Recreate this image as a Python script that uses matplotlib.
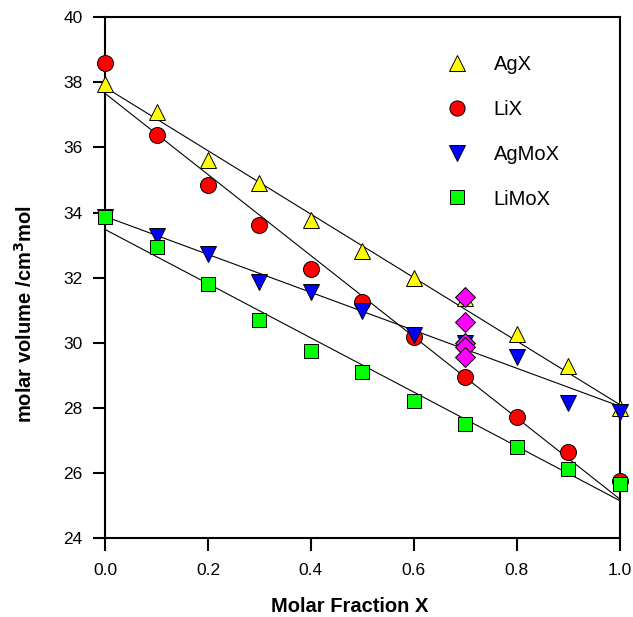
import matplotlib
matplotlib.use("Agg")
import matplotlib.pyplot as plt
import numpy as np

plt.rcParams['font.family'] = ['Liberation Sans', 'DejaVu Sans']

# molar fraction X
x = [0.0, 0.1, 0.2, 0.3, 0.4, 0.5, 0.6, 0.7, 0.8, 0.9, 1.0]

agx = [37.96, 37.1, 35.61, 34.91, 33.76, 32.82, 32.0, 31.38, 30.26, 29.3, 27.98]
lix = [38.6, 36.38, 34.84, 33.61, 32.28, 31.25, 30.17, 28.96, 27.73, 26.63, 25.76]
agmox = [33.85, 33.27, 32.74, 31.86, 31.56, 30.97, 30.25, 29.98, 29.55, 28.14, 27.86]
limox = [33.86, 32.94, 31.79, 30.69, 29.76, 29.1, 28.22, 27.51, 26.79, 26.12, 25.66]

# extra points at X = 0.7
x_extra = [0.7, 0.7, 0.7, 0.7, 0.7]
extra = [31.42, 30.65, 29.98, 29.86, 29.56]

# straight fit lines, value at X=0 and X=1
fit_x = [0.0, 1.0]
fit_agx = [37.85, 28.1]
fit_lix = [37.66, 25.2]
fit_agmox = [33.88, 28.05]
fit_limox = [33.48, 25.15]

fig = plt.figure(figsize=(6.33, 6.17), dpi=100)
ax = fig.add_axes([0.166, 0.128, 0.813, 0.844])

for f in (fit_agx, fit_lix, fit_agmox, fit_limox):
    ax.plot(fit_x, f, color='black', lw=0.8, zorder=2)

kw = dict(mec='black', mew=0.7, ls='none', zorder=3, clip_on=False)
ax.plot(x, agx, '^', ms=11.5, mfc='#ffff00', label='AgX', **kw)
ax.plot(x, lix, 'o', ms=11.5, mfc='#ff0000', label='LiX', **kw)
ax.plot(x, agmox, 'v', ms=11.5, mfc='#0000ff', label='AgMoX', **kw)
ax.plot(x, limox, 's', ms=10.5, mfc='#00ff00', label='LiMoX', **kw)
ax.plot(x_extra, extra, 'D', ms=10, mfc='#ff00ff', mec='black', mew=0.7, ls='none', zorder=4)

ax.set_xlim(0, 1.0)
ax.set_ylim(24, 40)
ax.set_xticks(np.arange(0, 1.01, 0.2))
ax.set_xticklabels(['0.0', '0.2', '0.4', '0.6', '0.8', '1.0'])
ax.set_yticks(range(24, 41, 2))
ax.tick_params(axis='both', direction='out', length=9, width=1.5, labelsize=12.5, top=False, right=False)
ax.tick_params(axis='x', pad=9)
ax.tick_params(axis='y', pad=7)
for s in ax.spines.values():
    s.set_linewidth(1.5)

ax.set_xlabel('Molar Fraction X', fontsize=14.5, fontweight='bold')
ax.set_ylabel('molar volume /cm$^\\mathbf{3}$mol', fontsize=14.5, fontweight='bold')
ax.xaxis.set_label_coords(0.475, -0.113)
ax.yaxis.set_label_coords(-0.135, 0.43)

ax.legend(loc='upper left', bbox_to_anchor=(0.61, 0.962), frameon=False, fontsize=14.5,
          labelspacing=1.28, handletextpad=0.8, markerscale=0.95)

fig.savefig('out.png', dpi=100)
